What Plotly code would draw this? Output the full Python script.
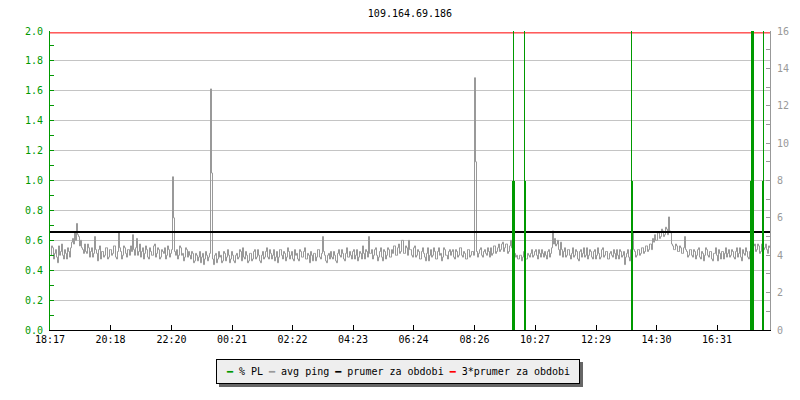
import plotly.graph_objects as go

# ---------------- data ----------------
title_text = "109.164.69.186"
tick_labels = ["18:17", "20:18", "22:20", "00:21", "02:22", "04:23",
               "06:24", "08:26", "10:27", "12:29", "14:30", "16:31"]
span_minutes = 1440          # one day shown
ping_step_minutes = 2        # spacing of the ping samples below

# average ping in ms (right axis), one value per 2-minute bin from 18:17
avg_ping_ms = [
    4.0, 4.5, 4.4, 3.8, 4.1, 4.3, 3.9, 3.6, 4.5, 4.0, 4.2, 4.6, 4.0, 3.8, 4.3, 4.1, 3.8, 4.4, 4.2, 3.9,
    4.4, 4.7, 4.9, 4.6, 5.2, 4.8, 5.7, 5.1, 5.0, 4.5, 4.8, 4.4, 4.3, 4.1, 4.6, 4.2, 4.1, 4.6, 4.4, 3.9,
    4.2, 4.4, 3.9, 4.1, 5.0, 4.3, 4.1, 3.7, 4.3, 4.5, 3.8, 4.2, 4.2, 3.9, 4.0, 4.4, 4.4, 3.8, 3.9, 4.3,
    4.3, 4.0, 4.1, 4.5, 4.5, 3.9, 3.8, 4.2, 5.25, 4.4, 4.2, 3.8, 4.0, 4.5, 4.4, 4.1, 3.9, 4.3, 4.3, 4.0,
    4.5, 4.2, 5.1, 4.3, 4.0, 4.4, 4.9, 4.0, 4.2, 4.6, 3.9, 4.2, 4.4, 3.8, 4.1, 4.5, 4.3, 3.9, 3.8, 4.4,
    4.2, 4.0, 4.0, 4.5, 4.6, 3.9, 4.1, 4.4, 4.3, 3.8, 3.9, 4.3, 4.2, 4.1, 4.4, 3.8, 4.0, 4.5, 4.3, 3.9,
    4.1, 4.3, 8.2, 6.0, 4.2, 4.0, 4.3, 3.8, 4.0, 4.5, 4.4, 4.0, 4.1, 3.7, 3.9, 4.4, 4.3, 3.9, 4.2, 4.0,
    3.8, 4.2, 4.1, 3.6, 3.7, 4.1, 4.0, 3.7, 3.9, 4.2, 3.6, 3.9, 4.1, 3.5, 3.8, 4.2, 4.0, 3.7, 3.9, 4.1,
    12.9, 8.4, 3.8, 3.5, 4.0, 4.1, 3.6, 3.8, 4.2, 3.9, 4.0, 3.6, 3.7, 4.2, 4.1, 3.7, 3.9, 4.3, 4.0, 3.6,
    3.8, 4.2, 4.0, 3.7, 3.6, 4.0, 4.1, 3.8, 3.9, 4.3, 4.2, 3.7, 4.4, 3.9, 3.8, 4.2, 4.0, 3.6, 3.7, 4.1,
    4.1, 3.7, 3.8, 4.2, 4.3, 3.8, 3.9, 4.3, 4.0, 3.7, 3.6, 4.0, 4.2, 3.8, 3.9, 4.2, 4.4, 3.9, 3.8, 4.3,
    4.1, 3.8, 4.0, 4.3, 3.7, 3.9, 4.2, 3.6, 3.9, 4.3, 4.3, 4.0, 3.8, 4.2, 4.1, 3.7, 3.9, 4.4, 4.2, 3.8,
    4.0, 4.2, 3.8, 3.7, 4.3, 4.0, 4.1, 3.8, 3.7, 4.3, 4.2, 3.9, 3.9, 4.2, 4.4, 3.8, 3.8, 4.1, 4.0, 3.6,
    4.2, 4.0, 3.7, 4.1, 4.1, 3.7, 3.9, 4.3, 4.3, 3.9, 3.8, 4.1, 5.0, 4.2, 4.0, 3.7, 3.6, 4.0, 4.1, 3.8,
    4.2, 3.9, 3.8, 4.2, 4.0, 3.7, 3.6, 4.1, 4.3, 4.0, 3.9, 4.3, 4.1, 3.8, 3.7, 4.1, 4.4, 3.9, 3.9, 4.2,
    4.0, 3.8, 4.2, 4.3, 3.8, 4.0, 4.3, 3.7, 3.9, 4.2, 4.1, 3.8, 4.5, 4.1, 3.8, 4.3, 4.2, 3.9, 5.0, 4.1,
    4.1, 4.3, 3.8, 4.0, 4.3, 4.4, 4.0, 3.7, 3.9, 4.2, 4.4, 3.9, 3.7, 4.3, 4.2, 3.8, 4.0, 4.4, 4.3, 3.9,
    3.9, 4.3, 4.1, 4.5, 4.5, 4.0, 4.0, 4.4, 4.6, 4.1, 4.2, 4.8, 4.8, 4.1, 4.1, 4.5, 4.4, 4.0, 4.8, 4.3,
    4.3, 4.0, 3.9, 4.4, 4.5, 3.9, 4.0, 4.3, 4.2, 3.8, 3.8, 4.2, 4.4, 4.1, 3.9, 3.7, 4.1, 4.4, 3.7, 4.0,
    4.3, 3.9, 4.0, 4.4, 4.2, 3.8, 3.8, 4.2, 4.4, 4.0, 4.1, 3.7, 3.9, 4.4, 4.3, 4.0, 4.0, 3.8, 4.2, 4.3,
    4.0, 4.2, 4.3, 3.9, 3.8, 4.3, 4.2, 3.9, 4.0, 4.4, 4.4, 4.0, 3.9, 4.2, 4.1, 3.8, 3.8, 4.3, 4.3, 3.9,
    4.0, 4.2, 4.2, 4.0, 13.5, 9.0, 4.2, 3.9, 4.1, 4.3, 4.4, 4.0, 3.9, 4.2, 4.3, 4.1, 4.0, 4.4, 4.2, 3.9,
    4.4, 4.0, 4.1, 4.5, 4.5, 4.1, 4.2, 4.4, 4.6, 4.2, 4.3, 4.6, 4.7, 4.2, 4.4, 4.6, 4.6, 4.1, 4.2, 4.5,
    4.8, 4.4, 4.3, 4.1, 4.1, 3.9, 4.0, 3.8, 3.8, 4.0, 4.0, 3.7, 3.9, 4.2, 4.1, 3.8, 3.8, 4.1, 4.0, 3.9,
    4.1, 4.3, 3.9, 4.0, 4.2, 4.3, 4.0, 3.8, 4.3, 4.1, 3.9, 4.3, 4.1, 3.9, 4.2, 4.0, 3.8, 4.2, 4.3, 3.9,
    4.1, 4.4, 5.3, 4.6, 4.9, 4.5, 4.6, 4.8, 4.3, 4.0, 4.7, 4.3, 3.9, 4.2, 4.4, 3.9, 4.0, 4.3, 4.3, 4.0,
    3.8, 4.1, 4.4, 3.9, 4.0, 4.3, 4.2, 3.8, 3.7, 4.2, 4.3, 3.9, 4.1, 4.4, 3.9, 4.0, 4.4, 3.8, 4.0, 4.3,
    4.2, 3.9, 3.8, 4.2, 4.3, 3.8, 4.0, 4.4, 4.1, 3.8, 3.9, 4.3, 4.4, 3.9, 4.0, 4.2, 4.2, 3.8, 3.8, 4.1,
    4.2, 4.0, 3.9, 4.3, 4.1, 3.8, 4.3, 4.0, 3.8, 4.3, 4.2, 3.9, 4.0, 4.2, 3.5, 3.9, 4.1, 4.3, 3.9, 3.7,
    4.3, 4.0, 5.2, 4.3, 4.2, 3.9, 4.0, 4.3, 4.3, 4.0, 4.1, 4.4, 4.4, 4.1, 4.2, 4.5, 4.5, 4.2, 4.3, 4.6,
    4.6, 4.3, 4.9, 4.7, 5.1, 4.8, 4.8, 5.2, 5.2, 4.9, 5.0, 5.4, 5.3, 5.0, 5.1, 5.5, 5.4, 5.1, 6.05, 5.3,
    5.2, 4.6, 4.5, 4.3, 4.3, 4.6, 4.5, 4.2, 4.2, 4.5, 4.4, 4.1, 4.1, 4.4, 5.0, 4.3, 4.2, 3.9, 4.0, 4.3,
    4.3, 4.0, 3.9, 4.3, 4.2, 3.8, 4.0, 4.3, 4.4, 3.9, 3.8, 4.2, 4.1, 3.7, 4.0, 4.4, 4.3, 4.0, 3.9, 4.2,
    4.2, 3.8, 3.7, 4.1, 4.1, 4.4, 4.0, 3.7, 4.3, 4.1, 3.8, 4.2, 4.2, 3.8, 4.1, 4.4, 3.9, 4.1, 4.3, 3.9,
    4.0, 4.3, 4.2, 3.9, 3.8, 4.2, 4.4, 3.9, 4.1, 4.4, 3.9, 3.7, 4.3, 4.1, 4.0, 4.4, 4.2, 3.9, 3.8, 4.2,
    4.4, 4.1, 4.2, 4.5, 4.6, 4.2, 4.3, 4.6, 4.5, 4.1, 4.2, 4.6, 4.7, 4.3, 4.4, 4.6, 4.3, 4.1, 4.5, 4.4,
]

# packet loss samples (minutes after 18:17, 2-minute bins) and % PL (left axis)
pl_minutes = [925, 927, 929, 949, 951, 1163, 1165, 1401, 1403, 1405, 1407, 1425, 1427]
pl_percent = [1, 2, 1, 2, 1, 2, 1, 1, 2, 2, 2, 1, 2]

prumer_ms = 5.25      # average for the period
prumer3_ms = 15.9     # 3 * average line as drawn

series_names = ["% PL", "avg ping", "prumer za obdobi", "3*prumer za obdobi"]
series_colors = ["#009900", "#999999", "#000000", "#ff0000"]

# ---------------- derived ----------------
def to_minutes(s):
    h, m = s.split(":")
    return int(h) * 60 + int(m)

start = to_minutes(tick_labels[0])
tick_minutes = [(to_minutes(s) - start) % 1440 for s in tick_labels]
# each ping sample is placed at the middle of its 2-minute bin
ping_minutes = [i * ping_step_minutes + ping_step_minutes / 2 for i in range(len(avg_ping_ms))]

FONT = "DejaVu Sans Mono"
GREEN, GRAY, BLACK, RED = series_colors

fig = go.Figure()

fig.add_trace(go.Scatter(
    x=ping_minutes, y=avg_ping_ms, mode="lines", name=series_names[1],
    line=dict(color=GRAY, width=1, shape="hv"), yaxis="y", showlegend=False))
fig.add_trace(go.Scatter(
    x=[0, span_minutes], y=[prumer_ms, prumer_ms], mode="lines", name=series_names[2],
    line=dict(color=BLACK, width=2), yaxis="y", showlegend=False))
fig.add_trace(go.Scatter(
    x=[0, span_minutes], y=[prumer3_ms, prumer3_ms], mode="lines", name=series_names[3],
    line=dict(color=RED, width=1), yaxis="y", showlegend=False))
fig.add_trace(go.Bar(
    x=pl_minutes, y=pl_percent, width=2, name=series_names[0],
    marker=dict(color=GREEN, line=dict(width=0)), yaxis="y2", showlegend=False))

fig.update_layout(
    width=800, height=400,
    margin=dict(l=50, r=30, t=31, b=70),
    paper_bgcolor="white", plot_bgcolor="white",
    font=dict(family=FONT, size=10, color="black"),
    title=dict(text=title_text, x=0.5, xref="paper", y=1 - 13.5 / 400, yanchor="middle",
               font=dict(family=FONT, size=10, color="black")),
    barmode="overlay", bargap=0,
    xaxis=dict(range=[0, span_minutes], tickmode="array", tickvals=tick_minutes,
               ticktext=tick_labels, ticks="inside", ticklen=5, tickcolor=BLACK,
               showline=True, linecolor=BLACK, linewidth=1, showgrid=False,
               zeroline=False, automargin=False,
               tickfont=dict(family=FONT, size=10, color=BLACK)),
    yaxis=dict(range=[0, 16], side="right", dtick=2, ticks="inside", ticklen=4,
               tickcolor=GRAY, showline=True, linecolor=GRAY, linewidth=1,
               showgrid=False, zeroline=False, automargin=False, ticklabelstandoff=4,
               minor=dict(dtick=1, ticks="inside", ticklen=4, tickcolor=GRAY),
               tickfont=dict(family=FONT, size=10, color=GRAY)),
    yaxis2=dict(range=[0, 2], side="left", overlaying="y", dtick=0.2, tickformat=".1f",
                ticks="inside", ticklen=4, tickcolor=GREEN, showline=True,
                linecolor=GREEN, linewidth=1, showgrid=True, gridcolor="#c4c4c4",
                gridwidth=1, zeroline=False, automargin=False, ticklabelstandoff=4,
                minor=dict(dtick=0.1, ticks="inside", ticklen=4, tickcolor=GREEN),
                tickfont=dict(family=FONT, size=10, color=GREEN)),
)

# legend box (text legend with drop shadow), placed below the plot area
legend_html = " ".join(f'<span style="color:{c}">━</span> {n}'
                       for n, c in zip(series_names, series_colors))

def px_to_paper_x(px):
    return (px - 50) / 720

def px_to_paper_y(py):
    return (330 - py) / 299

fig.add_shape(type="rect", xref="paper", yref="paper",
              x0=px_to_paper_x(219), x1=px_to_paper_x(583),
              y0=px_to_paper_y(387), y1=px_to_paper_y(362),
              fillcolor="#666666", line=dict(width=0), layer="above")
fig.add_annotation(text=legend_html, x=px_to_paper_x(398), y=px_to_paper_y(371.5),
                   xref="paper", yref="paper", xanchor="center", yanchor="middle",
                   showarrow=False, width=352, height=13, align="center",
                   bgcolor="#eeeeee", bordercolor="black", borderwidth=1, borderpad=5,
                   font=dict(family=FONT, size=10, color="black"))

fig.write_html("out.html", config={"displayModeBar": False},
               post_script="document.body.style.margin='0';")
